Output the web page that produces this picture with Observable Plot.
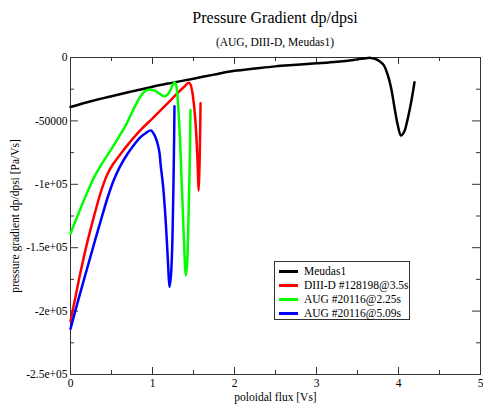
<!DOCTYPE html>
<html>
<head>
<meta charset="utf-8">
<script src="https://cdn.jsdelivr.net/npm/d3@7"></script>
<script src="https://cdn.jsdelivr.net/npm/@observablehq/plot@0.6"></script>
<style>
  html, body { margin: 0; padding: 0; background: #fff; }
  #wrap { position: relative; width: 483px; height: 405px; font-family: "Liberation Serif", "Times New Roman", serif; color: #000; }
  #title { position: absolute; left: 70px; width: 410px; top: 8px; text-align: center; font-size: 16px; line-height: 20px; }
  #subtitle { position: absolute; left: 70px; width: 410px; top: 35px; text-align: center; font-size: 11.5px; line-height: 14px; }
  #chart { position: absolute; left: 0; top: 50px; }
  #chart svg text { font-family: "Liberation Serif", "Times New Roman", serif; }
  #legend { position: absolute; left: 274px; top: 261px; width: 136px; height: 59px; border: 1px solid #333; background: #fff; box-sizing: border-box; padding-top: 2px; }
  .row { position: relative; height: 14px; font-size: 11.5px; line-height: 14px; white-space: nowrap; }
  .sw { position: absolute; left: 4px; top: 6px; width: 19px; height: 2.5px; }
  .lt { position: absolute; left: 29px; top: 0; }
</style>
</head>
<body>
<div id="wrap">
  <div id="title">Pressure Gradient dp/dpsi</div>
  <div id="subtitle">(AUG, DIII-D, Meudas1)</div>
  <div id="chart"></div>
  <div id="legend"></div>
</div>
<script>
// ---- data ----
const seriesNames = ["Meudas1", "DIII-D #128198@3.5s", "AUG #20116@2.25s", "AUG #20116@5.09s"];
const seriesColors = ["#000000", "#ff0000", "#00ff00", "#0000ff"];

const meudasX = [0,0.25,0.5,0.75,1,1.25,1.5,1.75,2,2.25,2.5,2.75,3,3.25,3.45,3.58,3.66,3.72,3.77,3.82,3.87,3.91,3.95,3.99,4.03,4.07,4.11,4.155,4.195];
const meudasY = [-39000,-34500,-30500,-26700,-23000,-19800,-16700,-13500,-10500,-8700,-7000,-5800,-4600,-3300,-1900,-700,-300,-1200,-3000,-6000,-14000,-24000,-39000,-53000,-61500,-58500,-49000,-35000,-19500];

const d3dX = [0,0.06,0.12,0.2,0.3,0.38,0.45,0.52,0.6,0.69,0.85,1.0,1.1,1.2,1.3,1.38,1.443,1.465,1.485,1.505,1.525,1.54,1.552,1.562,1.57,1.577,1.582,1.586];
const d3dY = [-208000,-189000,-170000,-147000,-122000,-104000,-92000,-84000,-77000,-69500,-57500,-48000,-41500,-35000,-28500,-23500,-20000,-21500,-27000,-37000,-52000,-68000,-87000,-105000,-93000,-74000,-55000,-36000];

const aug225X = [0,0.06,0.12,0.18,0.244,0.3,0.366,0.43,0.49,0.55,0.61,0.67,0.73,0.79,0.85,0.9,0.955,1.0,1.04,1.09,1.14,1.18,1.21,1.24,1.268,1.285,1.3,1.315,1.33,1.345,1.36,1.375,1.39,1.405,1.42,1.432,1.443,1.452,1.458,1.463];
const aug225Y = [-139000,-129000,-119500,-110000,-100500,-93000,-85500,-79000,-73000,-67000,-60500,-54000,-46000,-38000,-31000,-27000,-25500,-25700,-26500,-28700,-30500,-29500,-27000,-22500,-19500,-21000,-27000,-40000,-57000,-80000,-105000,-130000,-155000,-172000,-165000,-145000,-115000,-90000,-68000,-41500];

const aug509X = [0,0.1,0.2,0.3,0.37,0.45,0.52,0.6,0.69,0.78,0.85,0.92,0.98,1.03,1.08,1.1,1.13,1.16,1.19,1.207,1.225,1.24,1.25,1.258,1.264,1.268];
const aug509Y = [-214000,-190000,-167000,-144000,-128500,-111000,-98000,-86500,-76500,-68500,-63000,-59500,-57500,-62000,-73000,-85000,-102000,-128000,-163000,-181000,-172000,-150000,-120000,-90000,-62000,-38500];

const xTicks = [0,1,2,3,4,5];
const xMinorTicks = [0.5,1.5,2.5,3.5,4.5];
const yTicks = [0,-50000,-100000,-150000,-200000,-250000];
const yTickLabels = ["0","-50000","-1e+05","-1.5e+05","-2e+05","-2.5e+05"];
const yMinorTicks = [-25000,-75000,-125000,-175000,-225000];

const xLabel = "poloidal flux [Vs]";
const yLabel = "pressure gradient dp/dpsi [Pa/Vs]";

// ---- build table ----
const allX = [meudasX, d3dX, aug225X, aug509X];
const allY = [meudasY, d3dY, aug225Y, aug509Y];
const rows = [];
allX.forEach((xs, s) => xs.forEach((x, i) => rows.push({series: seriesNames[s], x, y: allY[s][i]})));

const W = 483, H = 355, mL = 70, mR = 3, mT = 7, mB = 31;
const innerH = H - mT - mB, innerW = W - mL - mR;
const labelMap = new Map(yTicks.map((v, i) => [v, yTickLabels[i]]));
const tickColor = "#333";
const serif = "'Liberation Serif', 'Times New Roman', serif";

const chart = Plot.plot({
  width: W, height: H,
  marginLeft: mL, marginRight: mR, marginTop: mT, marginBottom: mB,
  style: {fontFamily: serif, fontSize: "11.5px", color: "#000", background: "#fff", overflow: "visible"},
  x: {domain: [0, 5]},
  y: {domain: [-250000, 0]},
  color: {domain: seriesNames, range: seriesColors},
  marks: [
    // inward ticks: bottom & top
    Plot.ruleX(xTicks, {x: d => d, insetTop: innerH - 7, stroke: tickColor}),
    Plot.ruleX(xTicks, {x: d => d, insetBottom: innerH - 7, stroke: tickColor}),
    Plot.ruleX(xMinorTicks, {x: d => d, insetTop: innerH - 4, stroke: tickColor}),
    Plot.ruleX(xMinorTicks, {x: d => d, insetBottom: innerH - 4, stroke: tickColor}),
    // inward ticks: left & right
    Plot.ruleY(yTicks, {y: d => d, insetRight: innerW - 8, stroke: tickColor}),
    Plot.ruleY(yTicks, {y: d => d, insetLeft: innerW - 8, stroke: tickColor}),
    Plot.ruleY(yMinorTicks, {y: d => d, insetRight: innerW - 4, stroke: tickColor}),
    Plot.ruleY(yMinorTicks, {y: d => d, insetLeft: innerW - 4, stroke: tickColor}),
    Plot.frame({stroke: tickColor}),
    Plot.axisX(xTicks, {tickSize: 0, tickPadding: 4, label: xLabel, labelAnchor: "center", labelOffset: 26, labelArrow: "none", fontSize: 11.5, fontFamily: serif}),
    Plot.axisY(yTicks, {tickSize: 0, tickPadding: 3, tickFormat: d => labelMap.get(d), label: yLabel, labelAnchor: "center", labelOffset: 60, labelArrow: "none", fontSize: 11.5, fontFamily: serif}),
    Plot.line(rows, {x: "x", y: "y", z: "series", stroke: "series", strokeWidth: 2.5, curve: "catmull-rom"})
  ]
});
document.getElementById("chart").appendChild(chart);

// ---- legend ----
const legend = document.getElementById("legend");
seriesNames.forEach((name, i) => {
  const row = document.createElement("div");
  row.className = "row";
  const sw = document.createElement("span");
  sw.className = "sw";
  sw.style.background = seriesColors[i];
  const lt = document.createElement("span");
  lt.className = "lt";
  lt.textContent = name;
  row.appendChild(sw); row.appendChild(lt);
  legend.appendChild(row);
});
</script>
</body>
</html>
